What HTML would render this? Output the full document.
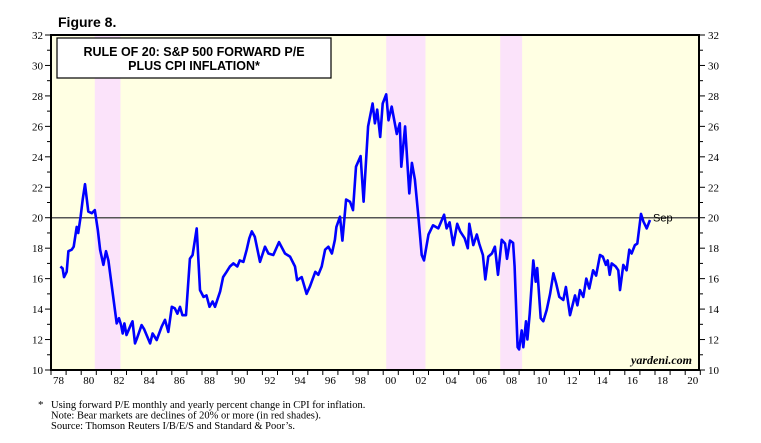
<!DOCTYPE html>
<html><head><meta charset="utf-8"><style>
body{margin:0;background:#fff;}
svg{display:block;font-family:"Liberation Serif",serif;}
</style></head><body>
<svg id="c" width="761" height="443" viewBox="0 0 761 443">
<text x="58" y="27" font-family="Liberation Sans" font-weight="bold" font-size="14">Figure 8.</text>
<g id="plot"></g>
</svg>
<script>
const years=[78.62,78.77,78.86,79.04,79.15,79.37,79.5,79.7,79.8,79.96,80.1,80.25,80.47,80.7,80.9,81.1,81.25,81.47,81.64,81.8,82.0,82.24,82.35,82.5,82.64,82.75,82.86,83.0,83.28,83.4,83.56,83.7,84.0,84.16,84.56,84.73,85.0,85.33,85.55,85.77,86.0,86.2,86.37,86.54,86.7,86.94,87.2,87.38,87.65,87.87,88.1,88.3,88.5,88.7,88.86,89.2,89.4,89.63,89.85,90.08,90.34,90.5,90.74,90.96,91.13,91.3,91.5,91.84,92.17,92.4,92.72,93.1,93.5,93.83,94.16,94.3,94.6,94.93,95.15,95.5,95.7,95.93,96.15,96.37,96.6,96.8,96.9,97.14,97.3,97.54,97.8,98.0,98.2,98.5,98.7,99.0,99.3,99.45,99.6,99.8,99.97,100.2,100.35,100.56,100.9,101.1,101.2,101.45,101.73,101.9,102.1,102.33,102.55,102.7,103.0,103.3,103.65,104.03,104.2,104.4,104.64,104.9,105.1,105.4,105.6,105.7,105.97,106.2,106.36,106.6,106.76,106.96,107.2,107.4,107.6,107.85,108.07,108.2,108.4,108.6,108.7,108.9,109.0,109.17,109.28,109.46,109.55,109.7,109.94,110.1,110.2,110.43,110.6,110.83,111.05,111.27,111.45,111.66,111.93,112.1,112.37,112.7,112.86,113.03,113.25,113.45,113.65,113.9,114.1,114.36,114.54,114.75,114.87,115.0,115.13,115.4,115.57,115.68,115.9,116.12,116.3,116.45,116.67,116.83,117.07,117.23,117.45,117.67];
const values=[16.8,16.67,16.1,16.45,17.8,17.9,18.1,19.4,19.0,20.06,21.2,22.2,20.4,20.3,20.5,19.2,17.9,16.9,17.8,17.2,15.7,13.9,13.06,13.4,12.95,12.4,13.06,12.3,12.95,13.2,11.75,12.1,12.95,12.7,11.75,12.4,11.97,12.85,13.3,12.5,14.15,14.05,13.7,14.15,13.6,13.6,17.3,17.55,19.3,15.25,14.8,14.9,14.15,14.5,14.15,15.15,16.1,16.45,16.8,17.0,16.8,17.2,17.1,17.9,18.65,19.1,18.75,17.1,18.1,17.65,17.55,18.4,17.65,17.45,16.8,15.9,16.1,15.0,15.5,16.45,16.25,16.8,17.9,18.1,17.65,18.55,19.4,20.07,18.5,21.2,21.05,20.5,23.35,24.05,21.05,26.0,27.5,26.2,27.1,25.3,27.5,28.1,26.4,27.3,25.5,26.2,23.35,26.0,21.6,23.6,22.5,20.07,17.55,17.2,18.9,19.5,19.3,20.2,19.3,19.7,18.2,19.6,19.1,18.65,18.0,19.6,18.2,18.9,18.3,17.55,15.95,17.45,17.65,18.1,16.25,18.55,18.3,17.3,18.5,18.35,16.8,11.5,11.35,12.6,11.5,13.2,12.0,13.7,17.2,15.8,16.7,13.4,13.2,13.95,15.0,16.35,15.7,14.8,14.6,15.45,13.6,14.9,14.25,15.25,14.8,16.0,15.35,16.55,16.2,17.55,17.45,16.9,17.2,16.25,17.0,16.8,16.55,15.25,16.9,16.55,17.9,17.65,18.2,18.3,20.25,19.75,19.3,19.85];
const bearStart=[80.9,100.2,107.75];
const bearEnd=[82.6,102.8,109.2];
const yTicks=[10,12,14,16,18,20,22,24,26,28,30,32];
const xLabels=['78','80','82','84','86','88','90','92','94','96','98','00','02','04','06','08','10','12','14','16','18','20'];

const L=51,R=699,T=35,B=370,Y0=78,YPX=15.1;
const X=y=>L+(y-Y0)*YPX;
const Y=v=>B-(v-10)*(B-T)/22;
const NS='http://www.w3.org/2000/svg';
const g=document.getElementById('plot');
function mk(t,a,p){const e=document.createElementNS(NS,t);for(const k in a)e.setAttribute(k,a[k]);(p||g).appendChild(e);return e;}

const bg=mk('rect',{x:L,y:T,width:R-L,height:B-T,fill:'#ffffe3'});


for(let i=0;i<bearStart.length;i++){
  const r=mk('rect',{x:X(bearStart[i]),y:T,width:X(bearEnd[i])-X(bearStart[i]),height:B-T,fill:'#fbe3fa'});
  
  
}
const ref=mk('line',{x1:L,x2:R,y1:Y(20),y2:Y(20),stroke:'#555',"stroke-width":1.5});



let d='';
for(let i=0;i<years.length;i++)d+=(i?'L':'M')+X(years[i]).toFixed(1)+' '+Y(values[i]).toFixed(1);
const ln=mk('path',{d:d,fill:'none',stroke:'#0000ff',"stroke-width":2.6,"stroke-linejoin":'round'});



const fr=mk('rect',{x:L,y:T,width:R-L,height:B-T,fill:'none',stroke:'#000',"stroke-width":2});



for(let v=10;v<=32;v++){
  const maj=v%2===0;
  mk('line',{x1:L-(maj?6:4),x2:L,y1:Y(v),y2:Y(v),stroke:'#000',"stroke-width":1});
  mk('line',{x1:R,x2:R+(maj?6:4),y1:Y(v),y2:Y(v),stroke:'#000',"stroke-width":1});
}
yTicks.forEach(v=>{
  const a=mk('text',{x:L-8,y:Y(v)+4,"text-anchor":'end',"font-size":11});
  a.textContent=v;
  
  
  const b=mk('text',{x:R+9,y:Y(v)+4,"font-size":11});
  b.textContent=v;
  
  
});
for(let y=78;y<=121;y++){mk('line',{x1:X(y),x2:X(y),y1:B,y2:B+5,stroke:'#000',"stroke-width":1});}
xLabels.forEach((s,i)=>{
  const t=mk('text',{x:X(78+2*i+0.5),y:B+14,"text-anchor":'middle',"font-size":11});
  t.textContent=s;
  
  
});
const sep=mk('text',{x:653,y:Y(20)+4,"font-family":'Liberation Sans',"font-size":11});
sep.textContent='Sep';


const yd=mk('text',{x:692,y:B-6,"text-anchor":'end',"font-size":12,"font-style":'italic',"font-weight":'bold'});
yd.textContent='yardeni.com';



const tb=mk('rect',{x:57,y:38,width:274,height:40,fill:'#fff',stroke:'#000',"stroke-width":1.2});


const t1=mk('text',{x:194,y:56,"text-anchor":'middle',"font-family":'Liberation Sans',"font-weight":'bold',"font-size":12.5});
t1.textContent='RULE OF 20: S&P 500 FORWARD P/E';


const t2=mk('text',{x:194,y:70,"text-anchor":'middle',"font-family":'Liberation Sans',"font-weight":'bold',"font-size":12.5});
t2.textContent='PLUS CPI INFLATION*';



const notes=['Using forward P/E monthly and yearly percent change in CPI for inflation.','Note: Bear markets are declines of 20% or more (in red shades).','Source: Thomson Reuters I/B/E/S and Standard & Poor’s.'];
const ast=mk('text',{x:38,y:408,"font-size":11});
ast.textContent='*';


notes.forEach((s,i)=>{
  const n=mk('text',{x:51,y:408+i*10.5,"font-size":10.5});
  n.textContent=s;
  
  
});
</script>
</body></html>
